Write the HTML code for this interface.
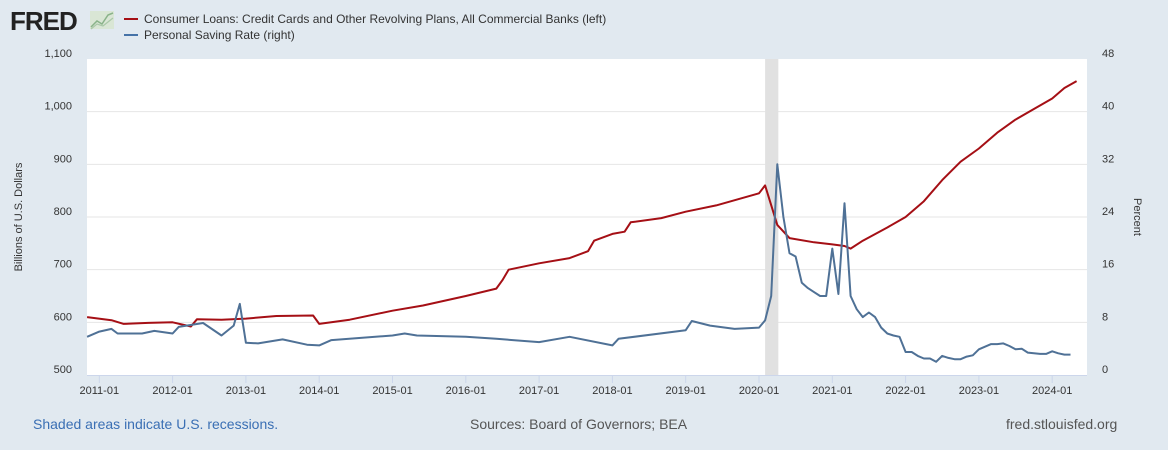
<!DOCTYPE html>
<html><head><meta charset="utf-8">
<style>
html,body{margin:0;padding:0;}
body{width:1168px;height:450px;background:#e1e9f0;font-family:"Liberation Sans",sans-serif;overflow:hidden;position:relative;}
.foot{position:absolute;top:416px;font-size:14px;}
</style></head>
<body>
<svg width="1168" height="450" style="position:absolute;left:0;top:0">
  <text x="10" y="30" font-family="Liberation Sans" font-weight="bold" font-size="26" fill="#222" letter-spacing="-1">FRED</text>
  <g>
    <rect x="90" y="11" width="24" height="18" fill="#d9e6d5"/>
    <polyline points="91,27 97,21 102,24 108,15 113,13" fill="none" stroke="#8ab38a" stroke-width="1.5"/>
    <polyline points="91,29 97,24 103,26 113,18" fill="none" stroke="#aac8a8" stroke-width="1.2"/>
  </g>
  <g>
    <line x1="124" y1="19" x2="138" y2="19" stroke="#a50f15" stroke-width="2"/>
    <text x="144" y="23" font-size="12" fill="#333">Consumer Loans: Credit Cards and Other Revolving Plans, All Commercial Banks (left)</text>
    <line x1="124" y1="35" x2="138" y2="35" stroke="#4572a7" stroke-width="2"/>
    <text x="144" y="39" font-size="12" fill="#333">Personal Saving Rate (right)</text>
  </g>
  <rect x="87" y="59" width="1000" height="316" fill="#fff"/>
  <g id="grid"></g>
  <g id="rec"></g>
  <g id="axes"></g>
  <g id="lines"></g>
  <text transform="translate(22,217) rotate(-90)" text-anchor="middle" font-size="11" fill="#333">Billions of U.S. Dollars</text>
  <text transform="translate(1134,217) rotate(90)" text-anchor="middle" font-size="11" fill="#333">Percent</text>
</svg>
<div class="foot" style="left:33px;color:#3a6fb4">Shaded areas indicate U.S. recessions.</div>
<div class="foot" style="left:470px;color:#555">Sources: Board of Governors; BEA</div>
<div class="foot" style="left:1006px;color:#555">fred.stlouisfed.org</div>
<script>
const leftTicks=[500,600,700,800,900,1000,1100];
const leftTickLabels=["500","600","700","800","900","1,000","1,100"];
const rightTicks=[0,8,16,24,32,40,48];
const xTickLabels=["2011-01","2012-01","2013-01","2014-01","2015-01","2016-01","2017-01","2018-01","2019-01","2020-01","2021-01","2022-01","2023-01","2024-01"];
const recession=["2020-02","2020-04"];
const ccDates=["2010-11","2011-03","2011-05","2011-09","2012-01","2012-04","2012-05","2012-09","2013-01","2013-06","2013-12","2014-01","2014-06","2015-01","2015-06","2016-01","2016-06","2016-07","2016-08","2017-01","2017-06","2017-09","2017-10","2018-01","2018-03","2018-04","2018-09","2019-01","2019-06","2020-01","2020-02","2020-04","2020-06","2020-10","2021-01","2021-03","2021-04","2021-06","2021-10","2022-01","2022-04","2022-07","2022-10","2023-01","2023-04","2023-07","2023-10","2024-01","2024-03","2024-05"];
const ccValues=[610,604,597,599,600,592,606,605,607,612,613,597,605,622,632,650,664,680,700,712,722,735,755,768,772,790,798,810,822,845,860,785,760,752,748,745,740,755,780,800,830,870,905,930,960,985,1005,1025,1045,1058];
const srDates=["2010-11","2011-01","2011-03","2011-04","2011-08","2011-10","2012-01","2012-02","2012-06","2012-09","2012-11","2012-12","2013-01","2013-03","2013-07","2013-11","2014-01","2014-03","2015-01","2015-03","2015-05","2016-01","2016-06","2017-01","2017-06","2018-01","2018-02","2019-01","2019-02","2019-05","2019-09","2020-01","2020-02","2020-03","2020-04","2020-05","2020-06","2020-07","2020-08","2020-09","2020-10","2020-11","2020-12","2021-01","2021-02","2021-03","2021-04","2021-05","2021-06","2021-07","2021-08","2021-09","2021-10","2021-11","2021-12","2022-01","2022-02","2022-03","2022-04","2022-05","2022-06","2022-07","2022-08","2022-09","2022-10","2022-11","2022-12","2023-01","2023-02","2023-03","2023-04","2023-05","2023-06","2023-07","2023-08","2023-09","2023-10","2023-11","2023-12","2024-01","2024-02","2024-03","2024-04"];
const srValues=[5.8,6.6,7.0,6.3,6.3,6.7,6.3,7.3,7.9,6.0,7.5,10.8,4.9,4.8,5.4,4.6,4.5,5.3,6.0,6.3,6.0,5.8,5.5,5.0,5.8,4.5,5.5,6.8,8.2,7.5,7.0,7.2,8.3,12.0,32.0,24.0,18.5,18.0,14.0,13.2,12.6,12.0,12.0,19.2,12.3,26.1,12.0,10.0,8.8,9.5,8.8,7.2,6.3,6.0,5.8,3.5,3.5,2.9,2.5,2.5,2.0,2.9,2.6,2.4,2.4,2.8,3.0,3.9,4.3,4.7,4.7,4.8,4.4,3.9,4.0,3.4,3.3,3.2,3.2,3.6,3.3,3.1,3.1];

const NS="http://www.w3.org/2000/svg";
const X0=87,X1=1087,Y0=59,Y1=375;
function xs(d){const [y,m]=d.split("-").map(Number);return 99.3+((y-2011)+(m-1)/12)*73.3;}
function yl(v){return Y1-(v-500)/600*(Y1-Y0);}
function yr(v){return Y1-v/48*(Y1-Y0);}
function mk(tag,attrs,parent){const e=document.createElementNS(NS,tag);for(const k in attrs)e.setAttribute(k,attrs[k]);document.getElementById(parent).appendChild(e);return e;}

rightTicks.forEach((t,i)=>{
  const y=yr(t);
  if(t>0&&t<48){const g=mk("line",{x1:X0,x2:X1,y1:y,y2:y,stroke:"#e6e6e6","stroke-width":1},"grid");
  
  }
  const tx=mk("text",{x:1102,y:y-2,"font-size":11,fill:"#333","text-anchor":"start"},"axes");
  tx.textContent=t;
  
  
});
leftTicks.forEach((t,i)=>{
  const tx=mk("text",{x:72,y:yl(t)-2,"font-size":11,fill:"#333","text-anchor":"end"},"axes");
  tx.textContent=leftTickLabels[i];
  
  
});
const ax=mk("line",{x1:X0,x2:X1,y1:Y1+0.5,y2:Y1+0.5,stroke:"#ccd6eb"},"axes");


xTickLabels.forEach(l=>{
  const x=xs(l);
  const tk=mk("line",{x1:x,x2:x,y1:Y1,y2:Y1+8,stroke:"#ccd6eb"},"axes");
  
  
  const tx=mk("text",{x:x,y:Y1+19,"font-size":11,fill:"#333","text-anchor":"middle"},"axes");
  tx.textContent=l;
  
  
});
const r=mk("rect",{x:xs(recession[0]),y:Y0,width:xs(recession[1])-xs(recession[0])+1,height:Y1-Y0,fill:"#e1e1e1"},"rec");



const p1=mk("polyline",{points:ccDates.map((d,i)=>xs(d).toFixed(1)+","+yl(ccValues[i]).toFixed(1)).join(" "),fill:"none",stroke:"#a50f15","stroke-width":2,"stroke-linejoin":"round"},"lines");


const p2=mk("polyline",{points:srDates.map((d,i)=>xs(d).toFixed(1)+","+yr(srValues[i]).toFixed(1)).join(" "),fill:"none",stroke:"#4f7196","stroke-width":2,"stroke-linejoin":"round"},"lines");


</script>
</body></html>
